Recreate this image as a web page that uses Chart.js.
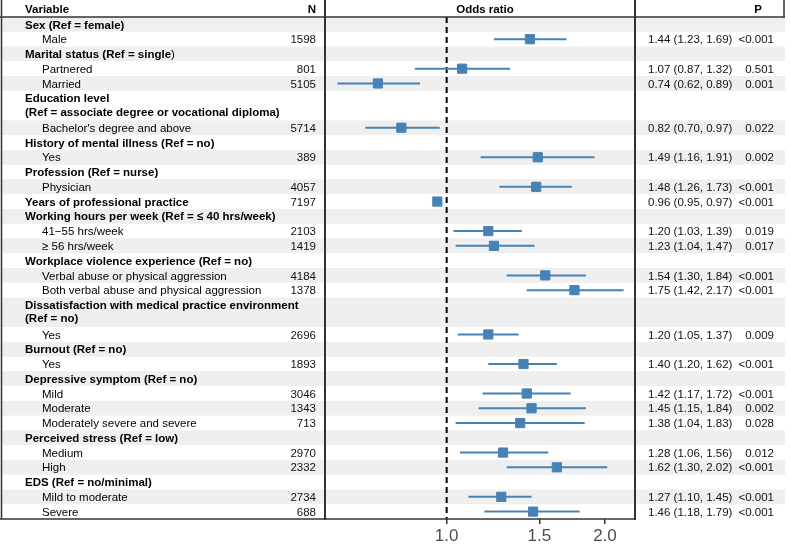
<!DOCTYPE html>
<html><head><meta charset="utf-8">
<script src="https://cdn.jsdelivr.net/npm/chart.js@4.4.1/dist/chart.umd.min.js"></script>
<style>html,body{margin:0;padding:0;background:#fff}canvas{display:block}</style>
</head><body>
<canvas id="c" width="790" height="544"></canvas>
<script>
// ---------- data ----------
const variables = [
  "Sex (Ref = female)", "Male",
  "Marital status (Ref = single|)", "Partnered", "Married",
  "Education level\n(Ref = associate degree or vocational diploma)", "Bachelor's degree and above",
  "History of mental illness (Ref = no)", "Yes",
  "Profession (Ref = nurse)", "Physician",
  "Years of professional practice",
  "Working hours per week (Ref = \u2264 40 hrs/week)", "41\u221255 hrs/week", "\u2265 56 hrs/week",
  "Workplace violence experience (Ref = no)", "Verbal abuse or physical aggression", "Both verbal abuse and physical aggression",
  "Dissatisfaction with medical practice environment\n(Ref = no)", "Yes",
  "Burnout (Ref = no)", "Yes",
  "Depressive symptom (Ref = no)", "Mild", "Moderate", "Moderately severe and severe",
  "Perceived stress (Ref = low)", "Medium", "High",
  "EDS (Ref = no/minimal)", "Mild to moderate", "Severe"
];
const isHeading = [1,0, 1,0,0, 1,0, 1,0, 1,0, 1, 1,0,0, 1,0,0, 1,0, 1,0, 1,0,0,0, 1,0,0, 1,0,0];
const nValues = [null,1598, null,801,5105, null,5714, null,389, null,4057, 7197, null,2103,1419, null,4184,1378, null,2696, null,1893, null,3046,1343,713, null,2970,2332, null,2734,688];
const oddsRatio = [null,1.44, null,1.07,0.74, null,0.82, null,1.49, null,1.48, 0.96, null,1.20,1.23, null,1.54,1.75, null,1.20, null,1.40, null,1.42,1.45,1.38, null,1.28,1.62, null,1.27,1.46];
const ciLower = [null,1.23, null,0.87,0.62, null,0.70, null,1.16, null,1.26, 0.95, null,1.03,1.04, null,1.30,1.42, null,1.05, null,1.20, null,1.17,1.15,1.04, null,1.06,1.30, null,1.10,1.18];
const ciUpper = [null,1.69, null,1.32,0.89, null,0.97, null,1.91, null,1.73, 0.97, null,1.39,1.47, null,1.84,2.17, null,1.37, null,1.62, null,1.72,1.84,1.83, null,1.56,2.02, null,1.45,1.79];
const pValues = [null,"<0.001", null,"0.501","0.001", null,"0.022", null,"0.002", null,"<0.001", "<0.001", null,"0.019","0.017", null,"<0.001","<0.001", null,"0.009", null,"<0.001", null,"<0.001","0.002","0.028", null,"0.012","<0.001", null,"<0.001","<0.001"];
const xTicks = [1.0, 1.5, 2.0];
const refValue = 1;
const headerLabels = ["Variable", "N", "Odds ratio", "P"];

// ---------- layout helpers ----------
const FONT = '"Liberation Sans", Arial, Helvetica, sans-serif';
const rows = [];
let cursor = 0;
variables.forEach((v, i) => {
  const lines = v.split('\n').length;
  rows.push({start: cursor, lines: lines, center: cursor + lines / 2});
  cursor += lines;
});
const TOTAL_UNITS = cursor;
const HEADER_UNITS = 17 / 14.76;
const STEEL = '#4682B4';

const datasets = [];
datasets.push({
  label: 'ref', type: 'scatter', showLine: true,
  data: [{x: refValue, y: 0}, {x: refValue, y: TOTAL_UNITS}],
  borderColor: '#000', borderWidth: 2, borderDash: [6, 4], pointRadius: 0, order: 3
});
variables.forEach((v, i) => {
  if (oddsRatio[i] == null) return;
  datasets.push({
    label: 'ci' + i, type: 'scatter', showLine: true,
    data: [{x: ciLower[i], y: rows[i].center}, {x: ciUpper[i], y: rows[i].center}],
    borderColor: STEEL, borderWidth: 2, pointRadius: 0, order: 2
  });
});
datasets.push({
  label: 'or', type: 'scatter',
  data: variables.map((v, i) => oddsRatio[i] == null ? null : {x: oddsRatio[i], y: rows[i].center}).filter(d => d),
  pointStyle: 'rect', pointRadius: 6.5, backgroundColor: STEEL, borderColor: STEEL, borderWidth: 1, order: 1
});

const tablePlugin = {
  id: 'forestTable',
  beforeDraw(chart) {
    const ctx = chart.ctx, y = chart.scales.y;
    ctx.save();
    ctx.fillStyle = '#fff';
    ctx.fillRect(0, 0, chart.width, chart.height);
    ctx.fillStyle = '#efefef';
    rows.forEach((r, i) => {
      if (i % 2 !== 0) return;
      const t = y.getPixelForValue(r.start), b = y.getPixelForValue(r.start + r.lines);
      ctx.fillRect(2, t, 783, b - t);
    });
    ctx.restore();
  },
  afterDraw(chart) {
    const ctx = chart.ctx, y = chart.scales.y, ca = chart.chartArea;
    const headY = y.getPixelForValue(0);
    ctx.save();
    ctx.strokeStyle = '#333';
    const line = (x1, y1, x2, y2, w) => { ctx.lineWidth = w; ctx.beginPath(); ctx.moveTo(x1, y1); ctx.lineTo(x2, y2); ctx.stroke(); };
    line(1.5, 0, 1.5, ca.bottom, 1.5);
    line(0, headY, 785, headY, 1.5);
    line(784, 0, 784, headY, 1.5);
    line(ca.left, 0, ca.left, ca.bottom + 1, 2);
    line(ca.right, 0, ca.right, ca.bottom + 1, 2);
    line(0, ca.bottom, ca.right, ca.bottom, 1.5);

    ctx.fillStyle = '#000';
    ctx.textBaseline = 'middle';
    ctx.font = 'bold 11.5px ' + FONT;
    const hy = headY / 2 + 1.5;
    ctx.textAlign = 'left'; ctx.fillText(headerLabels[0], 25, hy);
    ctx.textAlign = 'right'; ctx.fillText(headerLabels[1], 316, hy);
    ctx.textAlign = 'center'; ctx.fillText(headerLabels[2], (ca.left + ca.right) / 2 + 5, hy);
    ctx.textAlign = 'center'; ctx.fillText(headerLabels[3], 758, hy);

    rows.forEach((r, i) => {
      const cy = y.getPixelForValue(r.center) + 1;
      const parts = variables[i].split('\n');
      const lineYs = parts.length === 1 ? [cy] : [cy - 7.5, cy + 6];
      parts.forEach((p, k) => {
        const [main, tail] = p.split('|');
        const x0 = isHeading[i] ? 25 : 42;
        ctx.textAlign = 'left';
        ctx.font = (isHeading[i] ? 'bold ' : '') + '11.5px ' + FONT;
        ctx.fillStyle = '#000';
        ctx.fillText(main, x0, lineYs[k]);
        if (tail) {
          const w = ctx.measureText(main).width;
          ctx.font = '11.5px ' + FONT;
          ctx.fillText(tail, x0 + w, lineYs[k]);
        }
      });
      ctx.font = '11.5px ' + FONT;
      ctx.fillStyle = '#111';
      if (nValues[i] != null) {
        ctx.textAlign = 'right';
        ctx.fillText(String(nValues[i]), 316, cy);
      }
      if (oddsRatio[i] != null) {
        ctx.textAlign = 'left';
        ctx.fillText(oddsRatio[i].toFixed(2) + ' (' + ciLower[i].toFixed(2) + ', ' + ciUpper[i].toFixed(2) + ')', 648, cy);
        ctx.textAlign = 'right';
        ctx.fillText(pValues[i], 774, cy);
      }
    });
    ctx.restore();
  }
};

new Chart(document.getElementById('c'), {
  type: 'scatter',
  data: {datasets: datasets},
  options: {
    responsive: false,
    animation: false,
    devicePixelRatio: 1,
    layout: {autoPadding: false, padding: {left: 325, right: 155, top: 0, bottom: 0}},
    plugins: {legend: {display: false}, tooltip: {enabled: false}},
    scales: {
      x: {
        type: 'logarithmic', min: 0.587, max: 2.281, bounds: 'data',
        afterBuildTicks: s => { s.ticks = xTicks.map(v => ({value: v})); },
        afterFit: s => { s.height = 25; },
        grid: {display: true, drawOnChartArea: false, drawTicks: true, tickLength: 5, color: '#333', lineWidth: 1.5},
        border: {display: false},
        ticks: {font: {size: 17, family: FONT}, color: '#4d4d4d', padding: 2, maxRotation: 0, minRotation: 0, autoSkip: false,
                callback: v => Number(v).toFixed(1)}
      },
      y: {type: 'linear', display: false, reverse: true, min: -HEADER_UNITS, max: TOTAL_UNITS}
    }
  },
  plugins: [tablePlugin]
});
</script>
</body></html>
